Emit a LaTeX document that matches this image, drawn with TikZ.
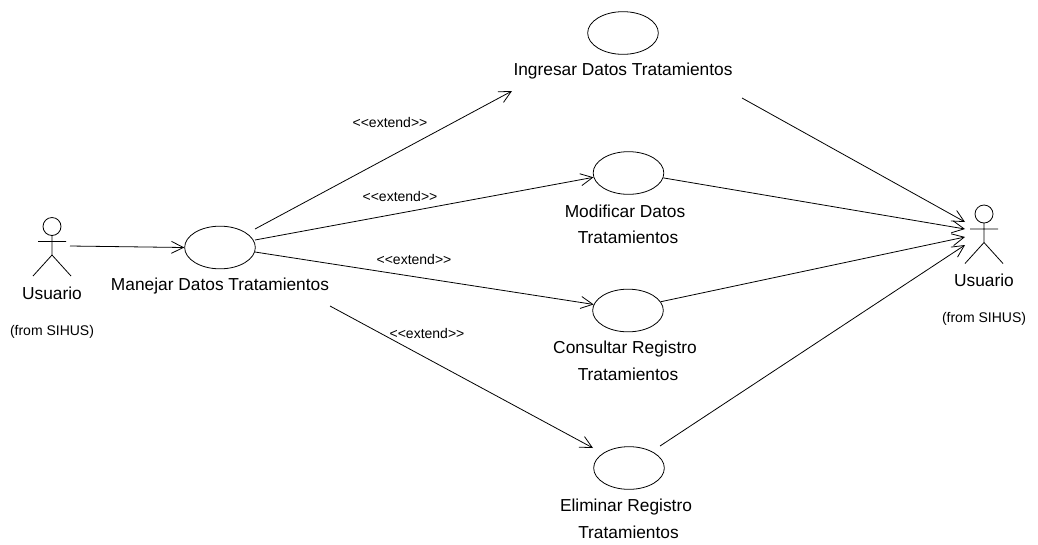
\documentclass[tikz,border=0pt]{standalone}
\usepackage{fontspec}
\setmainfont{Liberation Sans}
\usepackage{tikz}
\usetikzlibrary{arrows.meta}
\usetikzlibrary{shapes.geometric}
\newcommand{\actor}[3]{%
	\node[actorhead] (#1) at (#2,#3) {};
	\coordinate (#1neck) at (#2,#3+9);
	\coordinate (#1hip) at (#2,#3+28.5);
	\coordinate (#1larm) at (#2-14,#3+15);
	\coordinate (#1rarm) at (#2+14,#3+15);
	\coordinate (#1lleg) at (#2-19,#3+49.5);
	\coordinate (#1rleg) at (#2+19,#3+49.5);
	\draw (#1neck) -- (#1hip) (#1larm) -- (#1rarm) (#1lleg) -- (#1hip) -- (#1rleg);
}

\begin{document}
\begin{tikzpicture}[x=0.75pt,y=-0.75pt,>={Straight Barb[length=9pt,width=9pt]},line width=0.6pt,
		usecase/.style={ellipse,draw=black,minimum width=53pt,minimum height=32pt,inner sep=0pt},
		actorhead/.style={circle,draw=black,minimum size=13.5pt,inner sep=0pt},
		uclabel/.style={inner sep=0pt,font=\fontsize{13}{13}\selectfont},
		stereo/.style={inner sep=0pt,font=\fontsize{10.5}{10.5}\selectfont},
		fromlabel/.style={inner sep=0pt,font=\fontsize{10.5}{10.5}\selectfont}]
		\useasboundingbox (0,0) rectangle (1038,544);
		
		\actor{userL}{52}{226.5}
		\actor{userR}{984}{214}
		
		\node[usecase] (manejar)   at (220,247.5) {};
		\node[usecase] (ingresar)  at (623,33)  {};
		\node[usecase] (modificar) at (628.5,173) {};
		\node[usecase] (consultar) at (628,310.5) {};
		\node[usecase] (eliminar)  at (629,468)  {};
		
		\node[uclabel] (userLname)  at (52,293)   {Usuario};
		\node[fromlabel] (userLfrom)  at (52,332)   {(from SIHUS)};
		\node[uclabel] (userRname)  at (984,280)  {Usuario};
		\node[fromlabel] (userRfrom)  at (984,319)  {(from SIHUS)};
		
		\node[uclabel] (manejarT)   at (220,286)  {Manejar Datos Tratamientos};
		\node[uclabel] (ingresarT)  at (623,71)   {Ingresar Datos Tratamientos};
		\node[uclabel] (modificarT) at (625,211)  {Modificar Datos};
		\node[uclabel] (modificarU) at (628,237)  {Tratamientos};
		\node[uclabel] (consultarT) at (625,349)  {Consultar Registro};
		\node[uclabel] (consultarU) at (628,374.5)  {Tratamientos};
		\node[uclabel] (eliminarT)  at (626,507)  {Eliminar Registro};
		\node[uclabel] (eliminarU)  at (628.5,532)  {Tratamientos};
		
		\node[stereo] (ext1) at (390,122) {<{}<extend>{}>};
		\node[stereo] (ext2) at (400,196) {<{}<extend>{}>};
		\node[stereo] (ext3) at (414,259) {<{}<extend>{}>};
		\node[stereo] (ext4) at (427,333) {<{}<extend>{}>};
		
		% free ends of the connectors
		\coordinate (userLout) at (70,246);
		\coordinate (m1) at (255,229);
		\coordinate (m2) at (255,240);
		\coordinate (m3) at (255,252);
		\coordinate (m4) at (330,306);
		\coordinate (ingIn) at (512,91);
		\coordinate (ingOut) at (742,98);
		\coordinate (elimIn) at (593,448);
		\coordinate (elimOut) at (660,446);
		\coordinate (r1) at (965,222);
		\coordinate (r2) at (965,229);
		\coordinate (r3) at (965,237);
		\coordinate (r4) at (965,245);
		
		\path[->]
		(userLout) edge (manejar.west)
		(m1) edge (ingIn)
		(m2) edge (modificar.187)
		(m3) edge (consultar.170)
		(m4) edge (elimIn)
		(ingOut) edge (r1)
		(modificar.-8) edge (r2)
		(consultar.15) edge (r3)
		(elimOut) edge (r4);
		\end{tikzpicture}
\end{document}
